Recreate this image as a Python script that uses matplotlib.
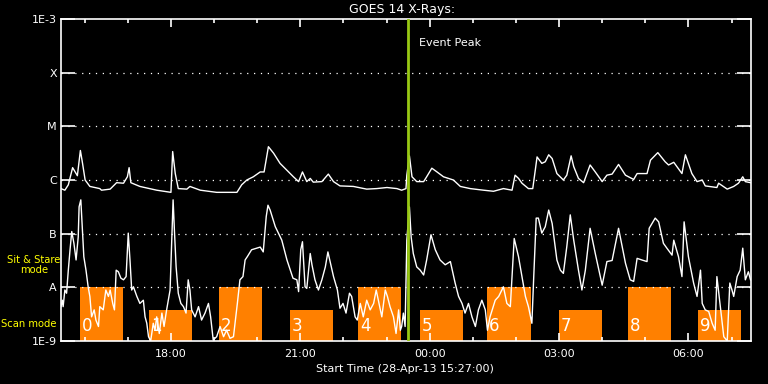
import numpy as np
import matplotlib
matplotlib.use("Agg")
from matplotlib import pyplot as plt

# hours since start (28-Apr-13 15:27) and log10 flux (W/m^2)
long_t = [0.00, 0.09, 0.17, 0.27, 0.38, 0.45, 0.50, 0.56, 0.67, 0.90, 0.94, 1.14, 1.29, 1.45,
          1.54, 1.58, 1.62, 1.83, 2.22, 2.55, 2.59, 2.65, 2.72, 2.92, 2.99, 3.23, 3.61, 4.08,
          4.19, 4.31, 4.46, 4.62, 4.71, 4.81, 4.93, 5.08, 5.39, 5.51, 5.60, 5.70, 5.78, 5.85,
          6.05, 6.20, 6.32, 6.47, 6.78, 7.09, 7.32, 7.56, 7.79, 7.90, 8.00, 8.02, 8.08, 8.14,
          8.25, 8.41, 8.48, 8.60, 8.72, 8.87, 9.10, 9.26, 9.49, 9.80, 10.03, 10.26, 10.46,
          10.53, 10.61, 10.69, 10.84, 10.94, 11.00, 11.04, 11.15, 11.23, 11.31, 11.39, 11.50,
          11.65, 11.73, 11.83, 11.89, 12.00, 12.12, 12.27, 12.39, 12.55, 12.66, 12.78, 12.93,
          13.09, 13.28, 13.36, 13.47, 13.59, 13.67, 13.84, 14.01, 14.09, 14.21, 14.40, 14.48,
          14.63, 14.75, 14.87, 14.94, 15.21, 15.25, 15.45, 15.60, 15.71, 15.81, 15.87, 15.99]
long_lg = [-6.16, -6.19, -6.09, -5.77, -5.92, -5.45, -5.69, -6.00, -6.12, -6.16, -6.19, -6.17,
           -6.05, -6.06, -5.94, -5.77, -6.05, -6.12, -6.19, -6.23, -5.47, -5.88, -6.16, -6.17,
           -6.12, -6.19, -6.23, -6.23, -6.09, -6.00, -5.94, -5.85, -5.85, -5.38, -5.50, -5.69,
           -5.94, -6.03, -5.85, -6.03, -5.97, -6.04, -6.03, -5.89, -6.03, -6.11, -6.12, -6.17,
           -6.16, -6.14, -6.16, -6.19, -6.16, -5.91, -5.55, -5.94, -6.03, -6.03, -5.94, -5.78,
           -5.85, -5.94, -6.00, -6.12, -6.16, -6.19, -6.21, -6.16, -6.19, -5.91, -5.97, -6.06,
           -6.16, -6.16, -5.81, -5.57, -5.69, -5.66, -5.53, -5.60, -5.88, -6.00, -5.91, -5.55,
           -5.75, -5.97, -6.05, -5.72, -5.85, -6.03, -5.91, -5.89, -5.71, -5.91, -5.99, -5.88,
           -5.88, -5.88, -5.63, -5.49, -5.66, -5.72, -5.67, -5.88, -5.53, -5.88, -6.03, -6.00,
           -6.11, -6.14, -6.06, -6.17, -6.12, -6.06, -5.94, -6.03, -6.05]

short_t = [0.00, 0.03, 0.05, 0.09, 0.13, 0.17, 0.21, 0.25, 0.30, 0.35, 0.40, 0.42, 0.46, 0.49,
           0.53, 0.58, 0.63, 0.67, 0.71, 0.77, 0.81, 0.87, 0.90, 0.98, 1.04, 1.10, 1.14, 1.20,
           1.24, 1.28, 1.33, 1.39, 1.45, 1.51, 1.56, 1.60, 1.64, 1.68, 1.76, 1.83, 1.91, 1.95,
           1.99, 2.03, 2.08, 2.14, 2.18, 2.22, 2.28, 2.34, 2.39, 2.45, 2.53, 2.57, 2.60, 2.63,
           2.67, 2.72, 2.78, 2.84, 2.90, 2.95, 2.99, 3.03, 3.11, 3.19, 3.26, 3.34, 3.42, 3.47,
           3.53, 3.61, 3.69, 3.77, 3.84, 3.92, 4.00, 4.09, 4.15, 4.22, 4.27, 4.32, 4.42, 4.54,
           4.62, 4.69, 4.76, 4.80, 4.85, 4.97, 5.12, 5.24, 5.38, 5.47, 5.51, 5.56, 5.60, 5.66,
           5.70, 5.78, 5.82, 5.89, 5.97, 6.05, 6.13, 6.19, 6.24, 6.32, 6.41, 6.47, 6.54, 6.61,
           6.69, 6.74, 6.82, 6.87, 6.94, 7.01, 7.09, 7.17, 7.25, 7.31, 7.36, 7.44, 7.52, 7.57,
           7.63, 7.71, 7.77, 7.83, 7.87, 7.90, 7.94, 7.98, 8.02, 8.08, 8.12, 8.17, 8.25, 8.33,
           8.41, 8.48, 8.58, 8.68, 8.79, 8.91, 9.03, 9.14, 9.22, 9.30, 9.37, 9.45, 9.53, 9.61,
           9.68, 9.76, 9.84, 9.89, 9.95, 10.07, 10.15, 10.26, 10.34, 10.42, 10.51, 10.61, 10.69,
           10.77, 10.84, 10.92, 10.96, 11.02, 11.07, 11.15, 11.23, 11.31, 11.39, 11.50, 11.58,
           11.65, 11.73, 11.81, 11.89, 12.00, 12.08, 12.16, 12.27, 12.39, 12.55, 12.66, 12.78,
           12.93, 13.09, 13.20, 13.28, 13.36, 13.47, 13.59, 13.64, 13.78, 13.86, 13.97, 14.05,
           14.17, 14.21, 14.32, 14.40, 14.45, 14.55, 14.67, 14.75, 14.83, 14.87, 14.94, 15.02,
           15.10, 15.17, 15.21, 15.29, 15.37, 15.45, 15.51, 15.56, 15.60, 15.68, 15.75, 15.81,
           15.87, 15.94, 15.99]
short_lg = [-8.36, -8.24, -8.36, -8.05, -8.11, -7.68, -7.30, -6.96, -7.18, -7.49, -7.06, -6.50,
            -6.37, -6.81, -7.43, -7.68, -7.99, -8.17, -8.55, -8.42, -8.61, -8.73, -8.36, -8.42,
            -8.05, -8.17, -8.05, -8.30, -8.42, -7.68, -7.71, -7.83, -7.86, -7.80, -6.99, -7.49,
            -8.05, -7.99, -8.17, -8.30, -8.24, -8.55, -8.67, -8.92, -9.00, -8.67, -8.80, -8.55,
            -8.86, -8.48, -8.73, -8.42, -8.05, -7.12, -6.37, -6.93, -7.62, -8.11, -8.30, -8.36,
            -8.48, -7.86, -8.05, -8.42, -8.55, -8.36, -8.61, -8.48, -8.30, -8.55, -8.98, -8.92,
            -8.73, -8.92, -8.80, -8.95, -8.92, -8.30, -7.86, -7.80, -7.49, -7.43, -7.30, -7.27,
            -7.25, -7.34, -6.68, -6.47, -6.56, -6.87, -7.12, -7.49, -7.83, -7.86, -8.08, -7.30,
            -7.15, -7.99, -8.02, -7.37, -7.58, -7.86, -8.05, -7.86, -7.62, -7.34, -7.52, -7.80,
            -8.05, -8.39, -8.30, -8.48, -8.11, -8.17, -8.55, -8.61, -8.30, -8.55, -8.24, -8.42,
            -8.30, -8.05, -8.24, -8.55, -8.05, -8.17, -8.36, -8.55, -8.86, -8.42, -8.80, -8.73,
            -8.48, -8.73, -7.12, -6.50, -7.06, -7.37, -7.62, -7.68, -7.77, -7.49, -7.02, -7.30,
            -7.49, -7.58, -7.52, -7.92, -8.17, -8.30, -8.48, -8.30, -8.55, -8.73, -8.42, -8.24,
            -8.42, -8.80, -8.55, -8.24, -8.17, -7.99, -8.30, -8.36, -7.09, -7.43, -7.80, -8.17,
            -8.36, -8.67, -7.86, -6.71, -6.71, -6.99, -6.87, -6.56, -6.81, -7.49, -7.68, -7.74,
            -7.24, -6.65, -7.12, -7.68, -8.05, -7.68, -6.90, -7.37, -7.96, -7.52, -7.50, -6.90,
            -7.55, -7.86, -7.89, -7.46, -7.49, -7.52, -6.90, -6.71, -6.78, -7.18, -7.27, -7.40,
            -7.12, -7.43, -7.80, -6.78, -7.43, -7.92, -8.17, -7.68, -8.30, -8.42, -8.45, -8.67,
            -8.80, -7.80, -8.36, -8.92, -9.00, -7.92, -8.05, -8.17, -7.80, -7.68, -7.27, -7.86,
            -7.71, -7.86]

# observation blocks: start (h), length (h), top level
scan_start = [0.44, 2.04, 3.67, 5.30, 6.89, 8.33, 9.88, 11.55, 13.15, 14.78]
scan_len = [1.0, 1.0, 1.0, 1.0, 1.0, 1.0, 1.02, 1.0, 1.0, 1.0]
scan_top = [1e-8, 10**-8.42, 1e-8, 10**-8.42, 1e-8, 10**-8.42, 1e-8, 10**-8.42, 1e-8, 10**-8.42]
scan_num = ["0", "1", "2", "3", "4", "5", "6", "7", "8", "9"]

event_peak = 8.05
start_clock = 15 + 27 / 60.0
tick_clock = [18, 21, 24, 27, 30]
tick_names = ["18:00", "21:00", "00:00", "03:00", "06:00"]
levels = [1e-9, 1e-8, 1e-7, 1e-6, 1e-5, 1e-4, 1e-3]
level_names = ["1E-9", "A", "B", "C", "M", "X", "1E-3"]

plt.rcParams['font.family'] = ['DejaVu Sans']
fig = plt.figure(figsize=(7.68, 3.84), dpi=100, facecolor='black')
ax = fig.add_axes([0.0794, 0.112, 0.8984, 0.8385], facecolor='black')
ax.set_yscale('log')
ax.set_ylim(1e-9, 1e-3)
ax.set_xlim(0, 16)

ax.bar(scan_start, np.array(scan_top) - 1e-9, width=scan_len, bottom=1e-9,
       align='edge', color='#ff8000', zorder=1)
for s, n in zip(scan_start, scan_num):
    ax.text(s + 0.04, 1.3e-9, n, color='white', fontsize=12, ha='left', va='bottom', zorder=2)

for lv in levels[1:-1]:
    ax.axhline(lv, color='white', lw=0.9, ls=(0, (1, 4.5)), zorder=2)

ax.plot(long_t, 10 ** np.array(long_lg), color='white', lw=1.0, zorder=3)
ax.plot(short_t, 10 ** np.clip(short_lg, -9, 0), color='white', lw=1.0, zorder=3, clip_on=True)

ax.axvline(event_peak, color='#98c814', lw=2.0, zorder=4)
ax.text(event_peak + 0.25, 10 ** -3.45, "Event Peak", color='white', fontsize=8, va='center')

for sp in ax.spines.values():
    sp.set_color('white')
    sp.set_linewidth(1.2)

ax.set_yticks(levels)
ax.set_yticklabels(level_names)
ax.yaxis.set_minor_locator(matplotlib.ticker.NullLocator())
ax.tick_params(axis='y', which='major', direction='in', length=10, width=1.2,
               colors='white', left=True, right=True, labelsize=8, pad=3)

ax.set_xticks([c - start_clock for c in tick_clock])
ax.set_xticklabels(tick_names)
ax.set_xticks([h - start_clock for h in range(16, 32) if h not in tick_clock], minor=True)
ax.tick_params(axis='x', which='major', direction='in', length=6, width=1.2,
               colors='white', top=True, bottom=True, labelsize=8, pad=6)
ax.tick_params(axis='x', which='minor', direction='in', length=3, width=1.2,
               colors='white', top=True, bottom=True)

fig.text(0.523, 0.974, "GOES 14 X-Rays:", color='white', fontsize=9, ha='center', va='center')
fig.text(0.527, 0.039, "Start Time (28-Apr-13 15:27:00)", color='white', fontsize=8,
         ha='center', va='center')
fig.text(0.044, 0.31, "Sit & Stare\nmode", color='yellow', fontsize=7.2, ha='center',
         va='center', linespacing=1.1)
fig.text(0.038, 0.156, "Scan mode", color='yellow', fontsize=7.2, ha='center', va='center')

fig.savefig("out.png", dpi=100, facecolor='black')
